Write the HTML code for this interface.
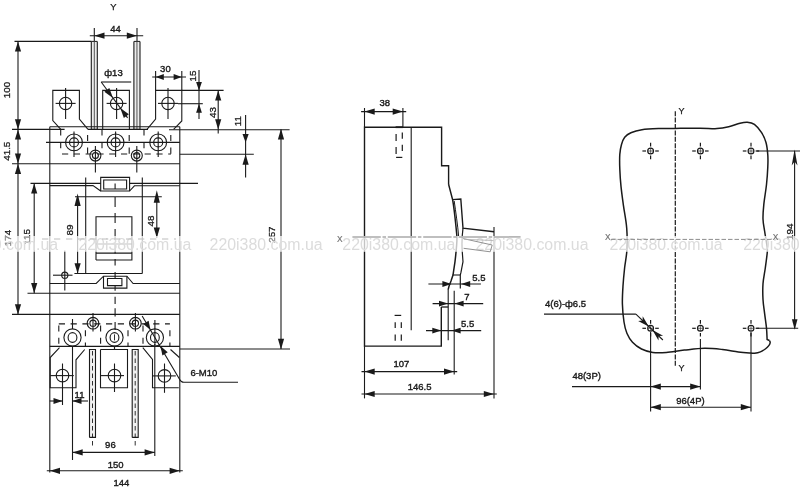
<!DOCTYPE html>
<html><head><meta charset="utf-8"><title>Dimension drawing</title>
<style>html,body{margin:0;padding:0;background:#fff;}svg{will-change:transform;}body{width:800px;height:489px;overflow:hidden;font-family:"Liberation Sans",sans-serif;}</style></head>
<body>
<svg width="800" height="489" viewBox="0 0 800 489" font-family="'Liberation Sans', sans-serif" fill="#1a1a1a" style="display:block">
<g stroke="#1a1a1a" stroke-width="1.1" fill="none" stroke-linecap="butt">
<text x="113.4" y="10" font-size="9.4" text-anchor="middle" font-weight="normal" fill="#1a1a1a" style="stroke:#1a1a1a;stroke-width:0.25">Y</text>
<text x="115.6" y="32" font-size="9.5" text-anchor="middle" font-weight="normal" fill="#1a1a1a" style="stroke:#1a1a1a;stroke-width:0.38">44</text>
<line x1="89.8" y1="35.7" x2="143.2" y2="35.7"/>
<line x1="94.3" y1="28" x2="94.3" y2="41.5"/>
<line x1="137" y1="28" x2="137" y2="41.5"/>
<polygon points="94.3,35.7 104.5,32.6 104.5,38.8" fill="#1a1a1a" stroke="none"/>
<polygon points="137,35.7 126.8,38.8 126.8,32.6" fill="#1a1a1a" stroke="none"/>
<rect x="91.3" y="41.4" width="6" height="88" fill="#ececec" stroke="none"/>
<line x1="91.3" y1="41.4" x2="91.3" y2="129.4" stroke-width="1.1"/>
<line x1="97.3" y1="41.4" x2="97.3" y2="129.4" stroke-width="1.1"/>
<line x1="91.3" y1="41.4" x2="97.3" y2="41.4" stroke-width="1"/>
<line x1="91.3" y1="129.4" x2="97.3" y2="129.4" stroke-width="1"/>
<line x1="94.3" y1="41.4" x2="94.3" y2="129.4" stroke-width="0.9" stroke="#444"/>
<rect x="133.9" y="41.4" width="6.1" height="88" fill="#ececec" stroke="none"/>
<line x1="133.9" y1="41.4" x2="133.9" y2="129.4" stroke-width="1.1"/>
<line x1="140" y1="41.4" x2="140" y2="129.4" stroke-width="1.1"/>
<line x1="133.9" y1="41.4" x2="140" y2="41.4" stroke-width="1"/>
<line x1="133.9" y1="129.4" x2="140" y2="129.4" stroke-width="1"/>
<line x1="136.95" y1="41.4" x2="136.95" y2="129.4" stroke-width="0.9" stroke="#444"/>
<line x1="14.5" y1="41.4" x2="91.4" y2="41.4"/>
<line x1="18" y1="41.4" x2="18" y2="129.4"/>
<polygon points="18,41.4 21.1,51.6 14.9,51.6" fill="#1a1a1a" stroke="none"/>
<polygon points="18,129.4 14.9,119.2 21.1,119.2" fill="#1a1a1a" stroke="none"/>
<text x="10.1" y="90" font-size="9.8" text-anchor="middle" font-weight="normal" transform="rotate(-90 10.1 90)" fill="#1a1a1a" style="stroke:#1a1a1a;stroke-width:0.3">100</text>
<line x1="12" y1="129.4" x2="64.6" y2="129.4"/>
<line x1="12" y1="163.7" x2="179.8" y2="163.7"/>
<line x1="18" y1="129.4" x2="18" y2="163.8"/>
<polygon points="18,129.4 21.1,139.6 14.9,139.6" fill="#1a1a1a" stroke="none"/>
<polygon points="18,163.8 14.9,153.6 21.1,153.6" fill="#1a1a1a" stroke="none"/>
<text x="10.1" y="151.2" font-size="9.8" text-anchor="middle" font-weight="normal" transform="rotate(-90 10.1 151.2)" fill="#1a1a1a" style="stroke:#1a1a1a;stroke-width:0.3">41.5</text>
<line x1="18" y1="163.8" x2="18" y2="314.4"/>
<polygon points="18,163.8 21.1,174 14.9,174" fill="#1a1a1a" stroke="none"/>
<polygon points="18,314.4 14.9,304.2 21.1,304.2" fill="#1a1a1a" stroke="none"/>
<line x1="12" y1="314.4" x2="179.8" y2="314.4"/>
<text x="11.2" y="238" font-size="9.8" text-anchor="middle" font-weight="normal" transform="rotate(-90 11.2 238)" fill="#1a1a1a" style="stroke:#1a1a1a;stroke-width:0.3">174</text>
<line x1="30.5" y1="183.4" x2="100.8" y2="183.4"/>
<line x1="129.6" y1="183.4" x2="198" y2="183.4"/>
<line x1="34.2" y1="183.4" x2="34.2" y2="293.2"/>
<polygon points="34.2,183.4 37.3,193.6 31.1,193.6" fill="#1a1a1a" stroke="none"/>
<polygon points="34.2,293.2 31.1,283 37.3,283" fill="#1a1a1a" stroke="none"/>
<line x1="27.5" y1="293.2" x2="179.8" y2="293.2"/>
<text x="29.7" y="236.8" font-size="9.8" text-anchor="middle" font-weight="normal" transform="rotate(-90 29.7 236.8)" fill="#1a1a1a" style="stroke:#1a1a1a;stroke-width:0.3">115</text>
<polyline points="60.8,129.4 52.8,120.5 52.8,90.4 79.4,90.4 79.4,119 88,129.4" fill="none"/>
<polyline points="102.7,129.4 102.7,90.4 129.4,90.4 129.4,129.4" fill="none"/>
<line x1="88" y1="129.4" x2="148" y2="129.4"/>
<polyline points="147,129.4 155.6,119 155.6,90.4 181.8,90.4 181.8,121 173.6,129.4" fill="none"/>
<circle cx="65.6" cy="103.4" r="6.2" fill="none"/>
<line x1="55.6" y1="103.4" x2="75.6" y2="103.4"/>
<line x1="65.6" y1="87.9" x2="65.6" y2="118.9"/>
<circle cx="116.6" cy="103.4" r="6.2" fill="none"/>
<line x1="106.6" y1="103.4" x2="126.6" y2="103.4"/>
<line x1="116.6" y1="87.9" x2="116.6" y2="118.9"/>
<circle cx="168" cy="103.4" r="6.2" fill="none"/>
<line x1="158" y1="103.4" x2="178" y2="103.4"/>
<line x1="168" y1="87.9" x2="168" y2="118.9"/>
<text x="113.5" y="75.9" font-size="9.5" text-anchor="middle" font-weight="normal" fill="#1a1a1a" style="stroke:#1a1a1a;stroke-width:0.38">ф13</text>
<line x1="101.2" y1="82" x2="131.2" y2="82"/>
<line x1="101.2" y1="82" x2="127.6" y2="117.8"/>
<polygon points="112.92,98.01 104.37,91.64 109.36,87.96" fill="#1a1a1a" stroke="none"/>
<polygon points="120.28,107.99 128.83,114.36 123.84,118.04" fill="#1a1a1a" stroke="none"/>
<text x="165.4" y="71.6" font-size="9.5" text-anchor="middle" font-weight="normal" fill="#1a1a1a" style="stroke:#1a1a1a;stroke-width:0.38">30</text>
<line x1="152.2" y1="77" x2="186" y2="77"/>
<line x1="155.6" y1="71" x2="155.6" y2="90.4"/>
<line x1="181.8" y1="71" x2="181.8" y2="90.4"/>
<polygon points="155.6,77 163.8,74.1 163.8,79.9" fill="#1a1a1a" stroke="none"/>
<polygon points="181.8,77 173.6,79.9 173.6,74.1" fill="#1a1a1a" stroke="none"/>
<text x="196.4" y="76" font-size="9.8" text-anchor="middle" font-weight="normal" transform="rotate(-90 196.4 76)" fill="#1a1a1a" style="stroke:#1a1a1a;stroke-width:0.3">15</text>
<line x1="199" y1="70" x2="199" y2="119"/>
<polygon points="199,90.4 196.1,82 201.9,82" fill="#1a1a1a" stroke="none"/>
<polygon points="199,103.7 201.9,112.7 196.1,112.7" fill="#1a1a1a" stroke="none"/>
<line x1="181.8" y1="90.4" x2="223.6" y2="90.4"/>
<line x1="178" y1="103.7" x2="202.8" y2="103.7"/>
<line x1="218.2" y1="90.4" x2="218.2" y2="133.6"/>
<polygon points="218.2,90.4 221.3,100.6 215.1,100.6" fill="#1a1a1a" stroke="none"/>
<polygon points="218.2,129.4 215.1,119.2 221.3,119.2" fill="#1a1a1a" stroke="none"/>
<text x="216" y="112.6" font-size="9.8" text-anchor="middle" font-weight="normal" transform="rotate(-90 216 112.6)" fill="#1a1a1a" style="stroke:#1a1a1a;stroke-width:0.3">43</text>
<line x1="169" y1="129.8" x2="289.6" y2="129.8"/>
<line x1="245.6" y1="114.9" x2="245.6" y2="177.4"/>
<polygon points="245.6,142.6 242.5,134 248.7,134" fill="#1a1a1a" stroke="none"/>
<polygon points="245.6,154.3 248.7,164.7 242.5,164.7" fill="#1a1a1a" stroke="none"/>
<line x1="179.8" y1="154.3" x2="253.8" y2="154.3"/>
<text x="240.9" y="121.2" font-size="9.8" text-anchor="middle" font-weight="normal" transform="rotate(-90 240.9 121.2)" fill="#1a1a1a" style="stroke:#1a1a1a;stroke-width:0.3">11</text>
<line x1="281" y1="129.4" x2="281" y2="349"/>
<polygon points="281,128.8 284.1,139.4 277.9,139.4" fill="#1a1a1a" stroke="none"/>
<polygon points="281,349.4 277.9,338.8 284.1,338.8" fill="#1a1a1a" stroke="none"/>
<line x1="179.8" y1="349" x2="290" y2="349"/>
<text x="275" y="234.6" font-size="9.8" text-anchor="middle" font-weight="normal" transform="rotate(-90 275 234.6)" fill="#1a1a1a" style="stroke:#1a1a1a;stroke-width:0.3">257</text>
<line x1="49.8" y1="126.8" x2="49.8" y2="472.4"/>
<line x1="179.8" y1="126.8" x2="179.8" y2="472.4"/>
<line x1="49.8" y1="126.8" x2="179.8" y2="126.8"/>
<line x1="49.8" y1="346.4" x2="179.8" y2="346.4"/>
<line x1="46" y1="142.4" x2="179.8" y2="142.4"/>
<circle cx="74" cy="142.4" r="8.4" fill="none"/>
<circle cx="74" cy="142.4" r="4.5" fill="none"/>
<line x1="74" y1="131.4" x2="74" y2="157"/>
<circle cx="115.6" cy="142.4" r="8.4" fill="none"/>
<circle cx="115.6" cy="142.4" r="4.5" fill="none"/>
<line x1="115.6" y1="131.4" x2="115.6" y2="157"/>
<circle cx="158.2" cy="142.4" r="8.4" fill="none"/>
<circle cx="158.2" cy="142.4" r="4.5" fill="none"/>
<line x1="158.2" y1="131.4" x2="158.2" y2="157"/>
<circle cx="95.4" cy="155.6" r="5.5" fill="none"/>
<circle cx="95.4" cy="155.6" r="3" fill="none"/>
<line x1="95.4" y1="146" x2="95.4" y2="172.5"/>
<circle cx="136.8" cy="155.6" r="5.5" fill="none"/>
<circle cx="136.8" cy="155.6" r="3" fill="none"/>
<line x1="136.8" y1="146" x2="136.8" y2="172.5"/>
<line x1="60.7" y1="129.4" x2="60.7" y2="154" stroke-dasharray="6.2 6.5" stroke-dashoffset="0"/>
<line x1="87.6" y1="129.4" x2="87.6" y2="154" stroke-dasharray="6.2 6.5" stroke-dashoffset="7.2"/>
<line x1="102" y1="129.4" x2="102" y2="154" stroke-dasharray="6.2 6.5" stroke-dashoffset="0"/>
<line x1="129.2" y1="129.4" x2="129.2" y2="154" stroke-dasharray="6.2 6.5" stroke-dashoffset="7.2"/>
<line x1="144" y1="129.4" x2="144" y2="154" stroke-dasharray="6.2 6.5" stroke-dashoffset="0"/>
<line x1="170.8" y1="129.4" x2="170.8" y2="154" stroke-dasharray="6.2 6.5" stroke-dashoffset="7.2"/>
<line x1="62" y1="154" x2="171" y2="154" stroke-dasharray="6.2 5.6"/>
<polygon points="100.7,177.4 129.6,177.4 129.6,191 100.7,191" fill="none"/>
<polygon points="103.7,180 126.6,180 126.6,189 103.7,189" fill="none"/>
<line x1="115.1" y1="183.4" x2="115.1" y2="189"/>
<polyline points="49.8,185.6 93,185.6 100.7,191" fill="none"/>
<polyline points="129.6,191 134.4,185.8 179.8,185.8" fill="none"/>
<line x1="85.7" y1="177.4" x2="85.7" y2="273.5"/>
<line x1="142.3" y1="177.4" x2="142.3" y2="273.5"/>
<line x1="75" y1="196.7" x2="161.8" y2="196.7"/>
<line x1="74.4" y1="273.5" x2="142.3" y2="273.5"/>
<line x1="77.6" y1="196.7" x2="77.6" y2="273.5"/>
<polygon points="77.6,193.6 80.7,206 74.5,206" fill="#1a1a1a" stroke="none"/>
<polygon points="77.6,273.5 74.5,263.3 80.7,263.3" fill="#1a1a1a" stroke="none"/>
<text x="73.4" y="230" font-size="9.8" text-anchor="middle" font-weight="normal" transform="rotate(-90 73.4 230)" fill="#1a1a1a" style="stroke:#1a1a1a;stroke-width:0.3">89</text>
<line x1="156.8" y1="196.7" x2="156.8" y2="238"/>
<polygon points="156.8,190.2 159.9,202.8 153.7,202.8" fill="#1a1a1a" stroke="none"/>
<polygon points="156.8,237.8 153.7,227.6 159.9,227.6" fill="#1a1a1a" stroke="none"/>
<text x="153.7" y="221" font-size="9.8" text-anchor="middle" font-weight="normal" transform="rotate(-90 153.7 221)" fill="#1a1a1a" style="stroke:#1a1a1a;stroke-width:0.3">48</text>
<polyline points="96,260 96,216.7 131.9,216.7 131.9,260 96,260" fill="none"/>
<line x1="96" y1="244" x2="131.9" y2="244"/>
<line x1="96" y1="253.1" x2="131.9" y2="253.1"/>
<line x1="115.1" y1="197" x2="115.1" y2="207"/>
<line x1="115.1" y1="213" x2="115.1" y2="223"/>
<line x1="115.1" y1="229" x2="115.1" y2="239"/>
<line x1="115.1" y1="245" x2="115.1" y2="253.6"/>
<line x1="115.1" y1="259" x2="115.1" y2="265.6"/>
<line x1="115.1" y1="272.1" x2="115.1" y2="277.9"/>
<line x1="115.1" y1="285.2" x2="115.1" y2="290.7"/>
<line x1="115.1" y1="296.7" x2="115.1" y2="304.1"/>
<line x1="115.1" y1="308.2" x2="115.1" y2="316.4"/>
<line x1="115.1" y1="322.1" x2="115.1" y2="330"/>
<circle cx="64.8" cy="275.2" r="3.1" fill="none"/>
<line x1="53" y1="275.2" x2="72.5" y2="275.2"/>
<line x1="64.8" y1="250.6" x2="64.8" y2="290.6"/>
<polyline points="49.8,283.5 96.2,283.5 103.5,276.2 126.9,276.2 133.1,283.5 179.8,283.5" fill="none"/>
<polyline points="103.5,276.2 103.5,288.1 126.9,288.1 126.9,276.2" fill="none"/>
<polygon points="107.5,278.5 121.9,278.5 121.9,285.6 107.5,285.6" fill="none"/>
<circle cx="93" cy="323.2" r="5.8" fill="none"/>
<circle cx="93" cy="323.2" r="3.1" fill="none"/>
<line x1="93" y1="313" x2="93" y2="331.6"/>
<circle cx="135.4" cy="323.2" r="5.8" fill="none"/>
<circle cx="135.4" cy="323.2" r="3.1" fill="none"/>
<line x1="135.4" y1="313" x2="135.4" y2="331.6"/>
<circle cx="72.5" cy="337.5" r="8.6" fill="none"/>
<ellipse cx="72.5" cy="337.5" rx="4.4" ry="4.9" fill="none"/>
<circle cx="114.5" cy="337.5" r="8.6" fill="none"/>
<ellipse cx="114.5" cy="337.5" rx="4.4" ry="4.9" fill="none"/>
<circle cx="154.9" cy="337.5" r="8.6" fill="none"/>
<ellipse cx="154.9" cy="337.5" rx="4.4" ry="4.9" fill="none"/>
<line x1="72.5" y1="319" x2="72.5" y2="329"/>
<line x1="114.5" y1="345.9" x2="114.5" y2="349.5"/>
<line x1="154.9" y1="320" x2="154.9" y2="345"/>
<line x1="114.5" y1="334.4" x2="114.5" y2="340.4" stroke-width="0.9"/>
<line x1="58.8" y1="325.4" x2="58.8" y2="346.4" stroke-dasharray="6 6.4" stroke-dashoffset="0"/>
<line x1="85.4" y1="325.4" x2="85.4" y2="346.4" stroke-dasharray="6 6.4" stroke-dashoffset="7.6"/>
<line x1="100.6" y1="325.4" x2="100.6" y2="346.4" stroke-dasharray="6 6.4" stroke-dashoffset="0"/>
<line x1="128" y1="325.4" x2="128" y2="346.4" stroke-dasharray="6 6.4" stroke-dashoffset="7.6"/>
<line x1="143" y1="325.4" x2="143" y2="346.4" stroke-dasharray="6 6.4" stroke-dashoffset="0"/>
<line x1="169.9" y1="325.4" x2="169.9" y2="346.4" stroke-dasharray="6 6.4" stroke-dashoffset="7.6"/>
<line x1="58.8" y1="323.9" x2="169.9" y2="323.9" stroke-dasharray="6.2 5.6"/>
<text x="203.9" y="376" font-size="9.5" text-anchor="middle" font-weight="normal" fill="#1a1a1a" style="stroke:#1a1a1a;stroke-width:0.38">6-M10</text>
<path d="M142.17,315.98 L179.68,379.4 Q181.08,382.2 183.68,382.2 L238,382.2" fill="none"/>
<polygon points="150.52,330.1 143.27,323.93 148.61,320.77" fill="#1a1a1a" stroke="none"/>
<polygon points="160.48,346.1 167.73,352.27 162.39,355.43" fill="#1a1a1a" stroke="none"/>
<polyline points="59.5,347.6 50.2,357.5 50.2,387.8 76,387.8 76,359.8 84.7,349.5" fill="none"/>
<polyline points="100.5,349.5 100.5,387.8 127.5,387.8 127.5,349.5 100.5,349.5" fill="none"/>
<line x1="114.5" y1="346.4" x2="114.5" y2="349.5"/>
<polyline points="142.8,347.6 152.5,359.4 152.5,387.8 178.8,387.8" fill="none"/>
<polyline points="170.5,349.5 179.4,357.5" fill="none"/>
<circle cx="62.5" cy="375.6" r="6.3" fill="none"/>
<line x1="50.2" y1="375.6" x2="73.8" y2="375.6"/>
<line x1="62.5" y1="363.5" x2="62.5" y2="405"/>
<circle cx="114.5" cy="375.6" r="6.3" fill="none"/>
<line x1="100.5" y1="375.6" x2="124" y2="375.6"/>
<line x1="114.5" y1="363.5" x2="114.5" y2="392"/>
<circle cx="164.5" cy="375.9" r="6.3" fill="none"/>
<line x1="152.5" y1="375.9" x2="175.8" y2="375.9"/>
<line x1="164.5" y1="363.5" x2="164.5" y2="392.8"/>
<rect x="89.5" y="349.5" width="6" height="87.9" fill="#f1f1f1" stroke="none"/>
<polyline points="89.5,437.4 89.5,349.5 95.5,349.5 95.5,437.4 89.5,437.4" fill="none"/>
<line x1="92.5" y1="351" x2="92.5" y2="446" stroke-width="0.9" stroke-dasharray="4.5 3"/>
<rect x="132.2" y="349.5" width="6" height="87.9" fill="#f1f1f1" stroke="none"/>
<polyline points="132.2,437.4 132.2,349.5 138.2,349.5 138.2,437.4 132.2,437.4" fill="none"/>
<line x1="135.2" y1="351" x2="135.2" y2="446" stroke-width="0.9" stroke-dasharray="4.5 3"/>
<line x1="72.5" y1="346" x2="72.5" y2="460"/>
<line x1="49.8" y1="401" x2="62.5" y2="401"/>
<line x1="72.5" y1="401" x2="88" y2="401"/>
<polygon points="62.5,401 53.5,403.9 53.5,398.1" fill="#1a1a1a" stroke="none"/>
<polygon points="72.5,401 81.5,398.1 81.5,403.9" fill="#1a1a1a" stroke="none"/>
<text x="79.5" y="398.4" font-size="9.5" text-anchor="middle" font-weight="normal" fill="#1a1a1a" style="stroke:#1a1a1a;stroke-width:0.38">11</text>
<line x1="154.8" y1="344" x2="154.8" y2="456"/>
<line x1="72.5" y1="452.4" x2="154.8" y2="452.4"/>
<polygon points="72.5,452.4 82.7,449.3 82.7,455.5" fill="#1a1a1a" stroke="none"/>
<polygon points="154.8,452.4 144.6,455.5 144.6,449.3" fill="#1a1a1a" stroke="none"/>
<text x="110.4" y="448.2" font-size="9.5" text-anchor="middle" font-weight="normal" fill="#1a1a1a" style="stroke:#1a1a1a;stroke-width:0.38">96</text>
<line x1="46.8" y1="470.8" x2="182.8" y2="470.8"/>
<polygon points="49.8,470.8 60,467.7 60,473.9" fill="#1a1a1a" stroke="none"/>
<polygon points="179.8,470.8 169.6,473.9 169.6,467.7" fill="#1a1a1a" stroke="none"/>
<text x="115.6" y="467.8" font-size="9.5" text-anchor="middle" font-weight="normal" fill="#1a1a1a" style="stroke:#1a1a1a;stroke-width:0.38">150</text>
<text x="121.4" y="486" font-size="9.5" text-anchor="middle" font-weight="normal" fill="#1a1a1a" style="stroke:#1a1a1a;stroke-width:0.38">144</text>
<text x="384.7" y="106.1" font-size="9.5" text-anchor="middle" font-weight="normal" fill="#1a1a1a" style="stroke:#1a1a1a;stroke-width:0.38">38</text>
<line x1="361.1" y1="111.6" x2="406.2" y2="111.6"/>
<line x1="364.5" y1="108" x2="364.5" y2="127.2"/>
<line x1="402.9" y1="108" x2="402.9" y2="127.2"/>
<polygon points="364.5,111.6 374.7,108.5 374.7,114.7" fill="#1a1a1a" stroke="none"/>
<polygon points="402.9,111.6 392.7,114.7 392.7,108.5" fill="#1a1a1a" stroke="none"/>
<polyline points="441.3,307 441.3,346.1 364.5,346.1 364.5,127.2 441.6,127.2 441.6,165.8 448.6,165.8 448.6,184.8" fill="none" stroke-width="1.4"/>
<line x1="411.2" y1="127.2" x2="411.2" y2="330.3"/>
<path d="M448.6,184.4 L452.6,199.6 C453.8,206 455.2,218 456.9,236 C457.3,242 456.6,248 455,261.6 L453,275 L451,281 L449,286.2 L448.2,289.4" fill="none" stroke-width="1.5"/>
<line x1="448.2" y1="289" x2="448.2" y2="340.2"/>
<path d="M452.6,199.6 L460.8,199 L463,228.2 L494,231.7" fill="none" stroke-width="1.4"/>
<path d="M454.2,201 C455.8,212 457.8,226 458.6,236" fill="none" stroke-width="1"/>
<path d="M463,228.2 C462,236 461.8,246 462.3,252.3 L463,261.6 L461,272.2 L460.3,275 L460.3,288.4" fill="none" stroke-width="1.2"/>
<line x1="453" y1="275" x2="460.3" y2="275"/>
<polyline points="448.2,307 441.3,307" fill="none" stroke-width="1.3"/>
<line x1="454.2" y1="290.8" x2="454.2" y2="374.5"/>
<line x1="396.1" y1="134.1" x2="396.1" y2="141" stroke-width="1.2"/>
<line x1="396.1" y1="147.1" x2="396.1" y2="154" stroke-width="1.2"/>
<line x1="402.3" y1="132.6" x2="402.3" y2="138.7" stroke-width="1.2"/>
<line x1="402.3" y1="144.8" x2="402.3" y2="151" stroke-width="1.2"/>
<line x1="395.2" y1="322.3" x2="395.2" y2="328" stroke-width="1.2"/>
<line x1="395.2" y1="334.6" x2="395.2" y2="340.7" stroke-width="1.2"/>
<line x1="401.3" y1="322.3" x2="401.3" y2="328" stroke-width="1.2"/>
<line x1="401.3" y1="334.6" x2="401.3" y2="340.7" stroke-width="1.2"/>
<line x1="396.1" y1="157.4" x2="402.3" y2="157.4" stroke-width="1.2"/>
<line x1="394.6" y1="315.4" x2="401.2" y2="315.4" stroke-width="1.2"/>
<line x1="395.6" y1="127.2" x2="402.9" y2="127.2" stroke-width="1.8"/>
<line x1="428.4" y1="284" x2="480.9" y2="284"/>
<polygon points="451.4,284 442.4,286.9 442.4,281.1" fill="#1a1a1a" stroke="none"/>
<polygon points="461.2,284 470.2,281.1 470.2,286.9" fill="#1a1a1a" stroke="none"/>
<text x="478.9" y="281" font-size="9.5" text-anchor="middle" font-weight="normal" fill="#1a1a1a" style="stroke:#1a1a1a;stroke-width:0.38">5.5</text>
<line x1="432.6" y1="303.6" x2="483.2" y2="303.6"/>
<polygon points="448,303.6 439,306.5 439,300.7" fill="#1a1a1a" stroke="none"/>
<polygon points="454.6,303.6 463.6,300.7 463.6,306.5" fill="#1a1a1a" stroke="none"/>
<text x="467" y="300" font-size="9.5" text-anchor="middle" font-weight="normal" fill="#1a1a1a" style="stroke:#1a1a1a;stroke-width:0.38">7</text>
<line x1="426" y1="330.6" x2="481.2" y2="330.6"/>
<polygon points="441.3,330.6 432.3,333.5 432.3,327.7" fill="#1a1a1a" stroke="none"/>
<polygon points="451.6,330.6 460.6,327.7 460.6,333.5" fill="#1a1a1a" stroke="none"/>
<text x="467.7" y="327.4" font-size="9.5" text-anchor="middle" font-weight="normal" fill="#1a1a1a" style="stroke:#1a1a1a;stroke-width:0.38">5.5</text>
<line x1="364.5" y1="346.1" x2="364.5" y2="398.4"/>
<line x1="361.5" y1="371.6" x2="457.2" y2="371.6"/>
<polygon points="364.5,371.6 374.7,368.5 374.7,374.7" fill="#1a1a1a" stroke="none"/>
<polygon points="454.2,371.6 444,374.7 444,368.5" fill="#1a1a1a" stroke="none"/>
<text x="401.4" y="367.2" font-size="9.5" text-anchor="middle" font-weight="normal" fill="#1a1a1a" style="stroke:#1a1a1a;stroke-width:0.38">107</text>
<line x1="494" y1="227" x2="494" y2="398.4"/>
<line x1="361.5" y1="394" x2="496.8" y2="394"/>
<polygon points="364.5,394 374.7,390.9 374.7,397.1" fill="#1a1a1a" stroke="none"/>
<polygon points="494,394 483.8,397.1 483.8,390.9" fill="#1a1a1a" stroke="none"/>
<text x="419.6" y="390" font-size="9.5" text-anchor="middle" font-weight="normal" fill="#1a1a1a" style="stroke:#1a1a1a;stroke-width:0.38">146.5</text>
<path d="M675,128.4 C679.17,128.37 693,128.17 700,128.2 C707,128.23 712.22,128.83 717,128.6 C721.78,128.37 724.87,127.7 728.7,126.8 C732.53,125.9 736.9,123.97 740,123.2 C743.1,122.43 744.9,122.02 747.3,122.2 C749.7,122.38 752.02,122.57 754.4,124.3 C756.78,126.03 759.67,129.57 761.6,132.6 C763.53,135.63 764.97,138.77 766,142.5 C767.03,146.23 767.5,150.92 767.8,155 C768.1,159.08 768.02,162.08 767.8,167 C767.58,171.92 767.17,178.23 766.5,184.5 C765.83,190.77 764.38,198.87 763.8,204.6 C763.22,210.33 762.87,214.5 763,218.9 C763.13,223.3 763.93,226.48 764.6,231 C765.27,235.52 766.55,242.5 767,246 C767.45,249.5 767.58,248.33 767.3,252 C767.02,255.67 766.02,262.7 765.3,268 C764.58,273.3 763.38,278.55 763,283.8 C762.62,289.05 762.73,294.57 763,299.5 C763.27,304.43 764.02,308.62 764.6,313.4 C765.18,318.18 766.08,323.87 766.5,328.2 C766.92,332.53 767,337.53 767.1,339.4 L769.4,340.5" fill="none" stroke-width="1.5"/>
<path d="M769.4,340.5 C769.53,340.83 770.27,341.68 770.2,342.5 C770.13,343.32 769.82,344.32 769,345.4 C768.18,346.48 766.73,347.92 765.3,349 C763.87,350.08 762.18,351.18 760.4,351.9 C758.62,352.62 756.25,353.1 754.6,353.3 C752.95,353.5 753.22,353.33 750.5,353.1 C747.78,352.87 742.97,352.5 738.3,351.9 C733.63,351.3 728.13,350.1 722.5,349.5 C716.87,348.9 710.87,348.2 704.5,348.3 C698.13,348.4 690.67,349.42 684.3,350.1 C677.93,350.78 671.55,352.02 666.3,352.4 C661.05,352.78 656.93,352.97 652.8,352.4 C648.67,351.83 644.88,350.68 641.5,349 C638.12,347.32 634.93,344.92 632.5,342.3 C630.07,339.68 628.32,336.68 626.9,333.3 C625.48,329.92 624.75,326.88 624,322 C623.25,317.12 622.57,310 622.4,304 C622.23,298 622.63,292 623,286 C623.37,280 623.95,274 624.6,268 C625.25,262 626.55,256.67 626.9,250 C627.25,243.33 627.27,235.35 626.7,228 C626.13,220.65 624.45,212.85 623.5,205.9 C622.55,198.95 621.62,192.45 621,186.3 C620.38,180.15 620,174.32 619.8,169 C619.6,163.68 619.52,158.48 619.8,154.4 C620.08,150.32 620.68,147.37 621.5,144.5 C622.32,141.63 623.13,139.15 624.7,137.2 C626.27,135.25 628.03,134.03 630.9,132.8 C633.77,131.57 637.22,130.5 641.9,129.8 C646.58,129.1 653.48,128.83 659,128.6 C664.52,128.37 672.33,128.43 675,128.4" fill="none" stroke-width="1.5"/>
<text x="681.5" y="113.5" font-size="9" text-anchor="middle" font-weight="normal" fill="#1a1a1a" style="stroke:#1a1a1a;stroke-width:0.25">Y</text>
<line x1="675.3" y1="111.2" x2="675.3" y2="366.4" stroke-width="1.2" stroke-dasharray="5 1.4"/>
<text x="681.5" y="370.7" font-size="9" text-anchor="middle" font-weight="normal" fill="#1a1a1a" style="stroke:#1a1a1a;stroke-width:0.25">Y</text>
<circle cx="650.6" cy="151" r="2.9" fill="none" stroke-width="1.2"/>
<line x1="646" y1="151" x2="642.4" y2="151" stroke-width="1.2"/>
<line x1="650.6" y1="146.4" x2="650.6" y2="142.8" stroke-width="1.2"/>
<line x1="655.2" y1="151" x2="658.8" y2="151" stroke-width="1.2"/>
<line x1="650.6" y1="155.6" x2="650.6" y2="159.2" stroke-width="1.2"/>
<line x1="647.9" y1="151" x2="653.3" y2="151" stroke-width="0.6"/>
<line x1="650.6" y1="148.3" x2="650.6" y2="153.7" stroke-width="0.6"/>
<circle cx="700.4" cy="151" r="2.9" fill="none" stroke-width="1.2"/>
<line x1="695.8" y1="151" x2="692.2" y2="151" stroke-width="1.2"/>
<line x1="700.4" y1="146.4" x2="700.4" y2="142.8" stroke-width="1.2"/>
<line x1="705" y1="151" x2="708.6" y2="151" stroke-width="1.2"/>
<line x1="700.4" y1="155.6" x2="700.4" y2="159.2" stroke-width="1.2"/>
<line x1="697.7" y1="151" x2="703.1" y2="151" stroke-width="0.6"/>
<line x1="700.4" y1="148.3" x2="700.4" y2="153.7" stroke-width="0.6"/>
<circle cx="751" cy="151" r="2.9" fill="none" stroke-width="1.2"/>
<line x1="746.4" y1="151" x2="742.8" y2="151" stroke-width="1.2"/>
<line x1="751" y1="146.4" x2="751" y2="142.8" stroke-width="1.2"/>
<line x1="755.6" y1="151" x2="759.2" y2="151" stroke-width="1.2"/>
<line x1="751" y1="155.6" x2="751" y2="159.2" stroke-width="1.2"/>
<line x1="748.3" y1="151" x2="753.7" y2="151" stroke-width="0.6"/>
<line x1="751" y1="148.3" x2="751" y2="153.7" stroke-width="0.6"/>
<circle cx="650.6" cy="328.3" r="2.9" fill="none" stroke-width="1.2"/>
<line x1="646" y1="328.3" x2="642.4" y2="328.3" stroke-width="1.2"/>
<line x1="650.6" y1="323.7" x2="650.6" y2="320.1" stroke-width="1.2"/>
<line x1="655.2" y1="328.3" x2="658.8" y2="328.3" stroke-width="1.2"/>
<line x1="650.6" y1="332.9" x2="650.6" y2="336.5" stroke-width="1.2"/>
<line x1="647.9" y1="328.3" x2="653.3" y2="328.3" stroke-width="0.6"/>
<line x1="650.6" y1="325.6" x2="650.6" y2="331" stroke-width="0.6"/>
<circle cx="700.4" cy="328.3" r="2.9" fill="none" stroke-width="1.2"/>
<line x1="695.8" y1="328.3" x2="692.2" y2="328.3" stroke-width="1.2"/>
<line x1="700.4" y1="323.7" x2="700.4" y2="320.1" stroke-width="1.2"/>
<line x1="705" y1="328.3" x2="708.6" y2="328.3" stroke-width="1.2"/>
<line x1="700.4" y1="332.9" x2="700.4" y2="336.5" stroke-width="1.2"/>
<line x1="697.7" y1="328.3" x2="703.1" y2="328.3" stroke-width="0.6"/>
<line x1="700.4" y1="325.6" x2="700.4" y2="331" stroke-width="0.6"/>
<circle cx="751" cy="328.3" r="2.9" fill="none" stroke-width="1.2"/>
<line x1="746.4" y1="328.3" x2="742.8" y2="328.3" stroke-width="1.2"/>
<line x1="751" y1="323.7" x2="751" y2="320.1" stroke-width="1.2"/>
<line x1="755.6" y1="328.3" x2="759.2" y2="328.3" stroke-width="1.2"/>
<line x1="751" y1="332.9" x2="751" y2="336.5" stroke-width="1.2"/>
<line x1="748.3" y1="328.3" x2="753.7" y2="328.3" stroke-width="0.6"/>
<line x1="751" y1="325.6" x2="751" y2="331" stroke-width="0.6"/>
<line x1="756.6" y1="151" x2="800" y2="151"/>
<line x1="756.4" y1="328.2" x2="798.2" y2="328.2"/>
<line x1="794.6" y1="151" x2="794.6" y2="328.3"/>
<polygon points="794.6,149.6 797.5,165.6 794.6,161.6 791.7,165.6" fill="#1a1a1a" stroke="none"/>
<polygon points="794.7,329.8 791.9,319.2 797.5,319.2" fill="#1a1a1a" stroke="none"/>
<text x="792.8" y="231.7" font-size="9.8" text-anchor="middle" font-weight="normal" transform="rotate(-90 792.8 231.7)" fill="#1a1a1a" style="stroke:#1a1a1a;stroke-width:0.3">194</text>
<text x="545" y="307.4" font-size="9.5" text-anchor="start" font-weight="normal" fill="#1a1a1a" style="stroke:#1a1a1a;stroke-width:0.38">4(6)-ф6.5</text>
<line x1="544" y1="314.1" x2="635.9" y2="314.1"/>
<line x1="635.9" y1="314.1" x2="662.9" y2="340"/>
<polygon points="648.72,326.5 638.14,320.92 642.59,320.62 642.71,316.16" fill="#1a1a1a" stroke="none"/>
<polygon points="652.48,330.1 663.06,335.68 658.61,335.98 658.49,340.44" fill="#1a1a1a" stroke="none"/>
<text x="572.4" y="378.8" font-size="9.5" text-anchor="start" font-weight="normal" fill="#1a1a1a" style="stroke:#1a1a1a;stroke-width:0.38">48(3P)</text>
<line x1="572" y1="386.6" x2="700.4" y2="386.6"/>
<polygon points="650.6,386.6 660.8,383.5 660.8,389.7" fill="#1a1a1a" stroke="none"/>
<polygon points="700.4,386.6 690.2,389.7 690.2,383.5" fill="#1a1a1a" stroke="none"/>
<line x1="650.6" y1="332" x2="650.6" y2="411.6"/>
<line x1="700.4" y1="338.9" x2="700.4" y2="389.5"/>
<line x1="751" y1="332" x2="751" y2="411.6"/>
<text x="690.4" y="404.2" font-size="9.5" text-anchor="middle" font-weight="normal" fill="#1a1a1a" style="stroke:#1a1a1a;stroke-width:0.38">96(4P)</text>
<line x1="650.6" y1="407.2" x2="751" y2="407.2"/>
<polygon points="650.6,407.2 660.8,404.1 660.8,410.3" fill="#1a1a1a" stroke="none"/>
<polygon points="751,407.2 740.8,410.3 740.8,404.1" fill="#1a1a1a" stroke="none"/>
</g>
<rect x="0" y="236" width="800" height="15.8" fill="#ffffff" fill-opacity="0.74" stroke="none"/>
<clipPath id="band"><rect x="0" y="236" width="800" height="15.8"/></clipPath>
<g clip-path="url(#band)">
<text x="11.2" y="238" font-size="9.8" text-anchor="middle" font-weight="normal" transform="rotate(-90 11.2 238)" fill="#8e8e8e" style="stroke:#8e8e8e;stroke-width:0.3">174</text>
<text x="29.7" y="236.8" font-size="9.8" text-anchor="middle" font-weight="normal" transform="rotate(-90 29.7 236.8)" fill="#8e8e8e" style="stroke:#8e8e8e;stroke-width:0.3">115</text>
<text x="73.4" y="230" font-size="9.8" text-anchor="middle" font-weight="normal" transform="rotate(-90 73.4 230)" fill="#8e8e8e" style="stroke:#8e8e8e;stroke-width:0.3">89</text>
<text x="275" y="234.6" font-size="9.8" text-anchor="middle" font-weight="normal" transform="rotate(-90 275 234.6)" fill="#8e8e8e" style="stroke:#8e8e8e;stroke-width:0.3">257</text>
<text x="792.8" y="231.7" font-size="9.8" text-anchor="middle" font-weight="normal" transform="rotate(-90 792.8 231.7)" fill="#8e8e8e" style="stroke:#8e8e8e;stroke-width:0.3">194</text>
</g>
<text x="-54.9" y="249.6" font-size="15.6" fill="#dcdcdc" stroke="none" textLength="113" lengthAdjust="spacingAndGlyphs">220i380.com.ua</text>
<text x="78.4" y="249.6" font-size="15.6" fill="#dcdcdc" stroke="none" textLength="113" lengthAdjust="spacingAndGlyphs">220i380.com.ua</text>
<text x="209.6" y="249.6" font-size="15.6" fill="#dcdcdc" stroke="none" textLength="113" lengthAdjust="spacingAndGlyphs">220i380.com.ua</text>
<text x="342.3" y="249.6" font-size="15.6" fill="#dcdcdc" stroke="none" textLength="113" lengthAdjust="spacingAndGlyphs">220i380.com.ua</text>
<text x="475.5" y="249.6" font-size="15.6" fill="#dcdcdc" stroke="none" textLength="113" lengthAdjust="spacingAndGlyphs">220i380.com.ua</text>
<text x="609.6" y="249.6" font-size="15.6" fill="#dcdcdc" stroke="none" textLength="113" lengthAdjust="spacingAndGlyphs">220i380.com.ua</text>
<text x="743.2" y="249.6" font-size="15.6" fill="#dcdcdc" stroke="none" textLength="113" lengthAdjust="spacingAndGlyphs">220i380.com.ua</text>
<g stroke-linecap="butt" fill="none">
<line x1="42" y1="239" x2="176" y2="239" stroke-width="1" stroke="#bdbdbd" stroke-dasharray="6.3 5.7"/>
<line x1="352.4" y1="236.9" x2="520.6" y2="236.9" stroke-width="1.5" stroke="#ababab" stroke-dasharray="28.4 1.7 3.5 1.8"/>
<polyline points="463.2,238.6 492.2,245 490.2,251.8 463.6,248.3" fill="none" stroke-width="1" stroke="#909090"/>
<polyline points="464,239.2 493.5,240.6" fill="none" stroke-width="0.8" stroke="#b0b0b0"/>
<line x1="611" y1="239.4" x2="771.5" y2="239.4" stroke-width="1" stroke="#8c8c8c" stroke-dasharray="4.5 2"/>
</g>
<text x="339.8" y="242.1" font-size="8.4" text-anchor="middle" font-weight="normal" fill="#707070" style="stroke:#707070;stroke-width:0.15">X</text>
<text x="607.8" y="240.4" font-size="8.4" text-anchor="middle" font-weight="normal" fill="#707070" style="stroke:#707070;stroke-width:0.15">X</text>
<text x="775.5" y="240.2" font-size="8.4" text-anchor="middle" font-weight="normal" fill="#707070" style="stroke:#707070;stroke-width:0.15">X</text>
</svg>
</body></html>
